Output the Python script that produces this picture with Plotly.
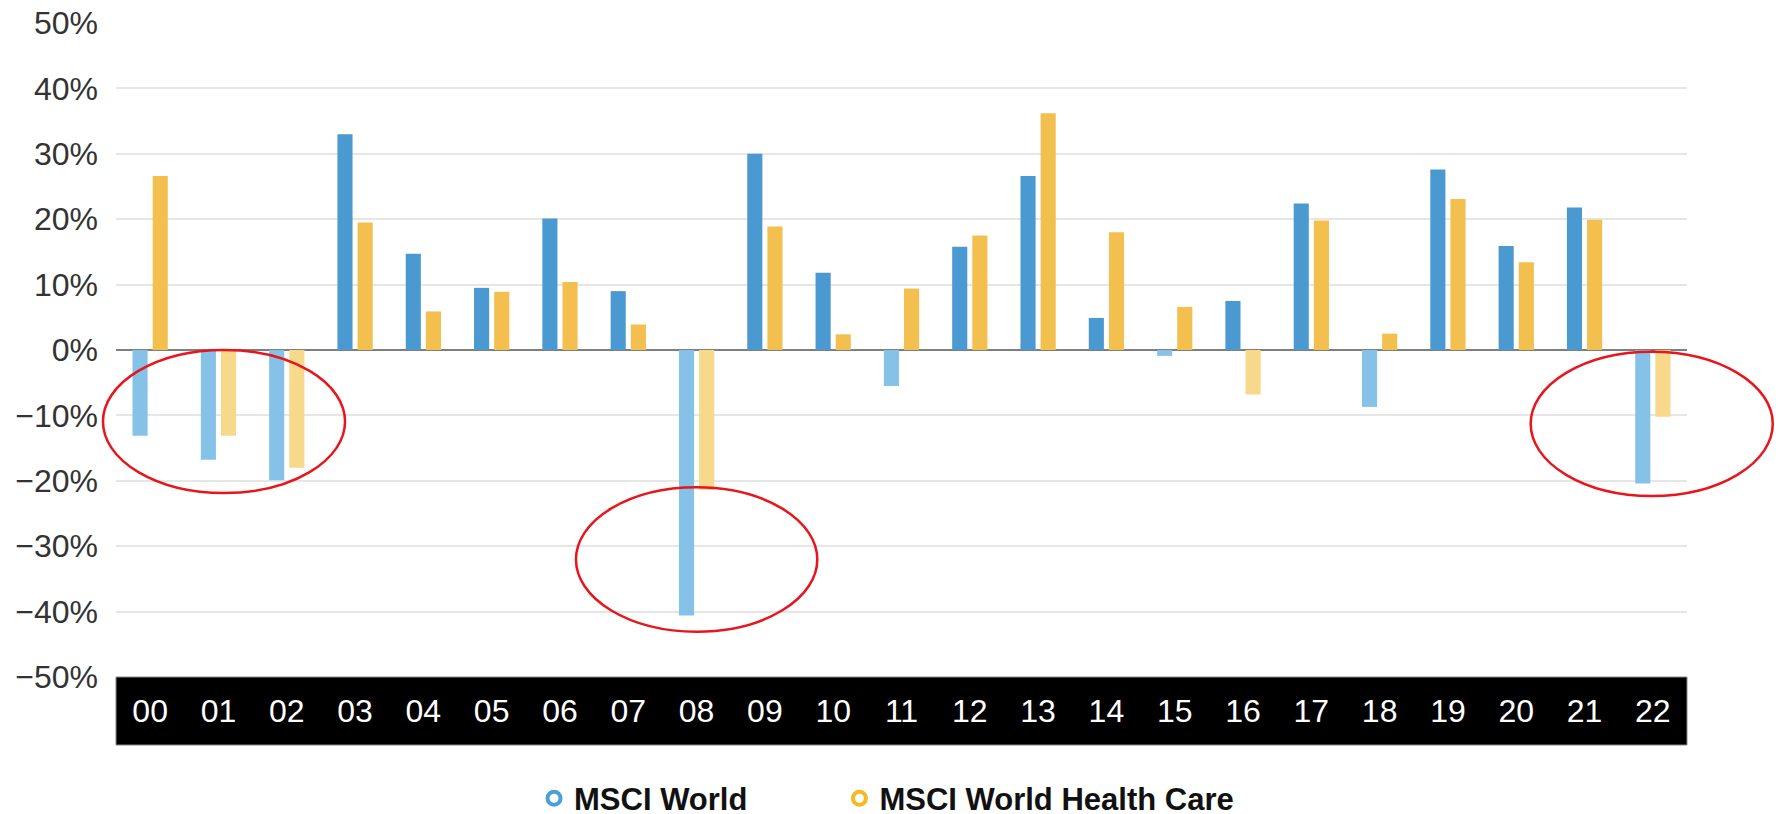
# Yearly returns: MSCI World vs MSCI World Health Care, with highlighted down years

import plotly.graph_objects as go


# Years shown as two-digit labels on the black band
YEARS = [f"{y:02d}" for y in range(0, 23)]

# Annual returns in percent
MSCI_WORLD = [-13.1, -16.8, -19.9, 33.0, 14.7, 9.5, 20.1, 9.0, -40.6, 30.0,
              11.8, -5.5, 15.8, 26.6, 4.9, -0.9, 7.5, 22.4, -8.7, 27.6,
              15.9, 21.8, -20.4]
MSCI_HEALTH = [26.6, -13.1, -18.0, 19.5, 5.9, 8.9, 10.4, 3.9, -21.4, 18.9,
               2.4, 9.4, 17.5, 36.2, 18.0, 6.6, -6.8, 19.8, 2.5, 23.1,
               13.4, 19.9, -10.2]

Y_TICKS = [-50, -40, -30, -20, -10, 0, 10, 20, 30, 40, 50]
Y_TICK_TEXT = [f"{v}%".replace("-", "\u2212") for v in Y_TICKS]

SERIES_NAMES = ["MSCI World", "MSCI World Health Care"]

# Dark shade for gains, pale shade for losses
BLUE, BLUE_LIGHT = "#4a99d1", "#86c2e8"
YELLOW, YELLOW_LIGHT = "#f3bf4f", "#f8d88a"
LEGEND_BLUE, LEGEND_YELLOW = "#4a9fd8", "#f7b923"
FONT = "Liberation Sans, Arial, sans-serif"


def sign_colors(values, pos, neg):
    return [pos if v >= 0 else neg for v in values]


fig = go.Figure()

fig.add_trace(go.Bar(
    x=YEARS, y=MSCI_WORLD, name=SERIES_NAMES[0],
    marker_color=sign_colors(MSCI_WORLD, BLUE, BLUE_LIGHT),
    marker_line_width=0, showlegend=False,
))
fig.add_trace(go.Bar(
    x=YEARS, y=MSCI_HEALTH, name=SERIES_NAMES[1],
    marker_color=sign_colors(MSCI_HEALTH, YELLOW, YELLOW_LIGHT),
    marker_line_width=0, showlegend=False,
))

# Legend-only entries so the legend shows hollow circles (one legend box each)
for name, col, leg in zip(SERIES_NAMES, [LEGEND_BLUE, LEGEND_YELLOW], ["legend", "legend2"]):
    fig.add_trace(go.Scatter(
        x=[None], y=[None], mode="markers", name=name, legend=leg,
        marker=dict(symbol="circle-open", size=13, color=col, line=dict(width=4, color=col)),
    ))

# Black band behind the year labels
fig.add_shape(type="rect", xref="paper", yref="paper", x0=0, x1=1, y0=-0.104, y1=0,
              fillcolor="black", line=dict(color="#8a8a8a", width=1), layer="below")

# Red ellipses around the down years
ELLIPSES = [(-0.0083, 0.1458, 0.2813, 0.5),
            (0.2928, 0.4464, 0.0693, 0.2901),
            (0.9005, 1.0546, 0.2768, 0.4974)]
for x0, x1, y0, y1 in ELLIPSES:
    fig.add_shape(type="circle", xref="paper", yref="paper", x0=x0, x1=x1, y0=y0, y1=y1,
                  line=dict(color="#e8151c", width=2.5), fillcolor="rgba(0,0,0,0)")

fig.update_xaxes(
    type="category", showgrid=False, ticks="", ticklabelstandoff=12,
    tickfont=dict(family=FONT, size=32, color="white"),
)
fig.update_yaxes(
    range=[-50, 50], tickvals=Y_TICKS, ticktext=Y_TICK_TEXT,
    showgrid=True, gridcolor="#e6e6e6", gridwidth=2,
    zeroline=True, zerolinecolor="#7f7f7f", zerolinewidth=2,
    tickfont=dict(family=FONT, size=32, color="#333333"), ticklabelstandoff=17,
)

legend_style = dict(
    orientation="h", yanchor="middle", y=-0.186, xanchor="left",
    font=dict(family=FONT, size=31, color="#111111", weight="bold"),
    itemsizing="trace", bgcolor="rgba(0,0,0,0)",
)

fig.update_layout(
    width=1779, height=814,
    margin=dict(l=116, r=92, t=23, b=137, autoexpand=False),
    barmode="group", bargap=0.41, bargroupgap=0.25,
    paper_bgcolor="white", plot_bgcolor="white",
    showlegend=True,
    legend=dict(x=0.2661, **legend_style),
    legend2=dict(x=0.4605, **legend_style),
)

# drop the default page margin so the figure sits at the window's top-left corner
fig.write_html(
    "out.html",
    config={"displayModeBar": False},
    post_script="document.body.style.margin = '0';",
)
